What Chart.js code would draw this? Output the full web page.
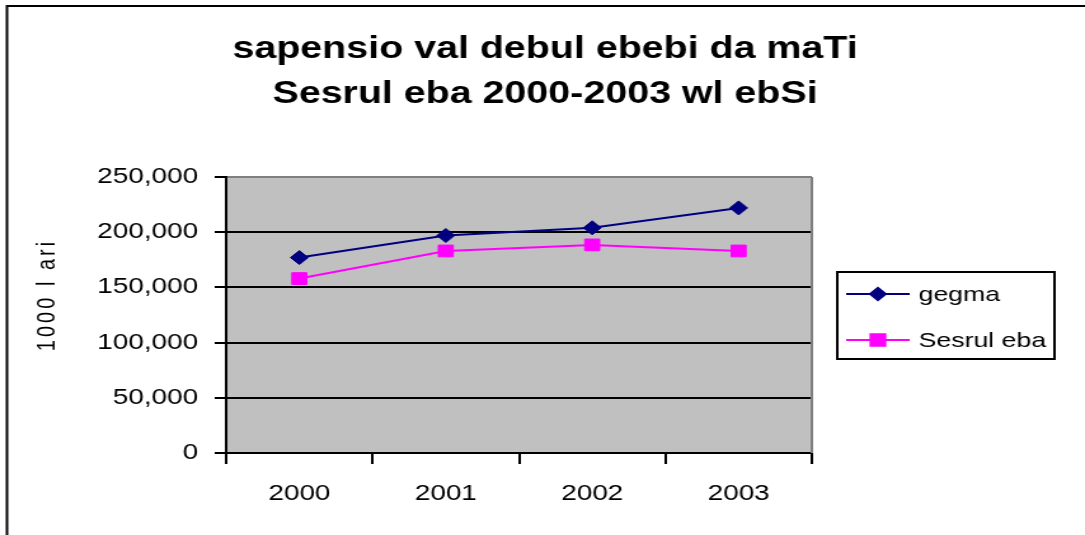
<!DOCTYPE html>
<html>
<head>
<meta charset="utf-8">
<script src="https://cdn.jsdelivr.net/npm/chart.js@4"></script>
<style>
  html, body { margin: 0; padding: 0; background: #fff; overflow: hidden; }
</style>
</head>
<body>
<!-- the reference is an Excel chart stretched sideways, so draw narrow and let CSS widen it -->
<canvas id="chart" width="854" height="535" style="width:1085px;height:535px;display:block"></canvas>
<script>
const years = ['2000', '2001', '2002', '2003'];
const gegma = [177000, 197000, 204000, 222000];
const sesruleba = [158000, 183000, 188500, 183000];
const yTicks = [0, 50000, 100000, 150000, 200000, 250000];

const titleLines = ['sapensio val debul ebebi da maTi', 'Sesrul eba 2000-2003 wl ebSi'];
const yTitle = '1000 l ari';
const seriesNames = ['gegma', 'Sesrul eba'];

const NAVY = '#000080';
const MAGENTA = '#ff00ff';

// Background, frame, title, y title and legend
const excelLook = {
  id: 'excelLook',
  beforeDraw(chart) {
    const { ctx, chartArea: a } = chart;
    ctx.save();
    ctx.fillStyle = '#fff';
    ctx.fillRect(0, 0, chart.width, chart.height);
    ctx.fillStyle = '#c0c0c0';
    ctx.fillRect(a.left, a.top, a.right - a.left, a.bottom - a.top);
    ctx.strokeStyle = '#000';
    ctx.lineWidth = 2;
    ctx.beginPath();
    ctx.moveTo(5.5, chart.height + 10);
    ctx.lineTo(5.5, 6);
    ctx.lineTo(chart.width + 10, 6);
    ctx.stroke();
    ctx.restore();
  },
  beforeDatasetsDraw(chart) {
    const { ctx, chartArea: a } = chart;
    ctx.save();
    ctx.strokeStyle = '#808080';
    ctx.lineWidth = 2;
    ctx.beginPath();
    ctx.moveTo(a.right, a.top);
    ctx.lineTo(a.right, a.bottom);
    ctx.stroke();
    ctx.restore();
  },
  afterDraw(chart) {
    const ctx = chart.ctx;
    ctx.save();
    ctx.fillStyle = '#000';

    // title
    ctx.font = 'bold 31px "Liberation Sans", Arial, sans-serif';
    ctx.textAlign = 'center';
    ctx.textBaseline = 'alphabetic';
    ctx.fillText(titleLines[0], 429, 58);
    ctx.fillText(titleLines[1], 429, 103);

    // y axis title
    ctx.save();
    ctx.translate(37, 295);
    ctx.rotate(-Math.PI / 2);
    ctx.font = '20px "Liberation Sans", Arial, sans-serif';
    ctx.letterSpacing = '3px';
    ctx.textBaseline = 'middle';
    ctx.fillText(yTitle, 0, 0);
    ctx.restore();

    // legend
    const box = { x: 659, y: 272, w: 171, h: 87 };
    ctx.fillStyle = '#fff';
    ctx.fillRect(box.x, box.y, box.w, box.h);
    ctx.strokeStyle = '#000';
    ctx.lineWidth = 2;
    ctx.strokeRect(box.x, box.y, box.w, box.h);

    const rows = [
      { name: seriesNames[0], color: NAVY, style: 'rectRot', radius: 6, y: 294 },
      { name: seriesNames[1], color: MAGENTA, style: 'rect', radius: 8, y: 340 }
    ];
    rows.forEach(r => {
      ctx.strokeStyle = r.color;
      ctx.lineWidth = 2;
      ctx.beginPath();
      ctx.moveTo(666, r.y);
      ctx.lineTo(716, r.y);
      ctx.stroke();
      ctx.fillStyle = r.color;
      Chart.helpers.drawPoint(ctx, { pointStyle: r.style, radius: r.radius, rotation: 0, borderWidth: 1 }, 691, r.y);
      ctx.fill();
      ctx.fillStyle = '#000';
      ctx.font = '21px "Liberation Sans", Arial, sans-serif';
      ctx.textAlign = 'left';
      ctx.textBaseline = 'middle';
      ctx.fillText(r.name, 723, r.y + 1);
    });
    ctx.restore();
  }
};

const ctx = document.getElementById('chart').getContext('2d');
new Chart(ctx, {
  type: 'line',
  data: {
    labels: years,
    datasets: [
      {
        label: seriesNames[0],
        data: gegma,
        borderColor: NAVY,
        backgroundColor: NAVY,
        borderWidth: 2,
        pointStyle: 'rectRot',
        pointRadius: 7,
        pointBorderWidth: 1,
        tension: 0
      },
      {
        label: seriesNames[1],
        data: sesruleba,
        borderColor: MAGENTA,
        backgroundColor: MAGENTA,
        borderWidth: 2,
        pointStyle: 'rect',
        pointRadius: 8.3,
        pointBorderWidth: 1,
        tension: 0
      }
    ]
  },
  options: {
    responsive: false,
    animation: false,
    devicePixelRatio: 1,
    layout: { padding: { top: 177, right: 215, left: 0, bottom: 0 } },
    plugins: {
      legend: { display: false },
      title: { display: false },
      tooltip: { enabled: false }
    },
    scales: {
      x: {
        offset: true,
        afterFit: scale => { scale.height = 82; },
        grid: {
          offset: true,
          drawOnChartArea: false,
          color: '#000',
          lineWidth: 2,
          tickLength: 11
        },
        border: { color: '#000', width: 2 },
        ticks: {
          color: '#000',
          padding: 17,
          font: { family: '"Liberation Sans", Arial, sans-serif', size: 22 }
        }
      },
      y: {
        min: 0,
        max: 250000,
        afterFit: scale => { scale.width = 178; },
        afterBuildTicks: scale => { scale.ticks = yTicks.map(v => ({ value: v })); },
        grid: {
          color: c => (c.tick && c.tick.value === 250000 ? '#808080' : '#000'),
          lineWidth: 2,
          tickColor: '#000',
          tickLength: 9
        },
        border: { color: '#000', width: 2 },
        ticks: {
          color: '#000',
          padding: 13,
          font: { family: '"Liberation Sans", Arial, sans-serif', size: 22 },
          callback: v => v.toLocaleString('en-US')
        }
      }
    }
  },
  plugins: [excelLook]
});
</script>
</body>
</html>
